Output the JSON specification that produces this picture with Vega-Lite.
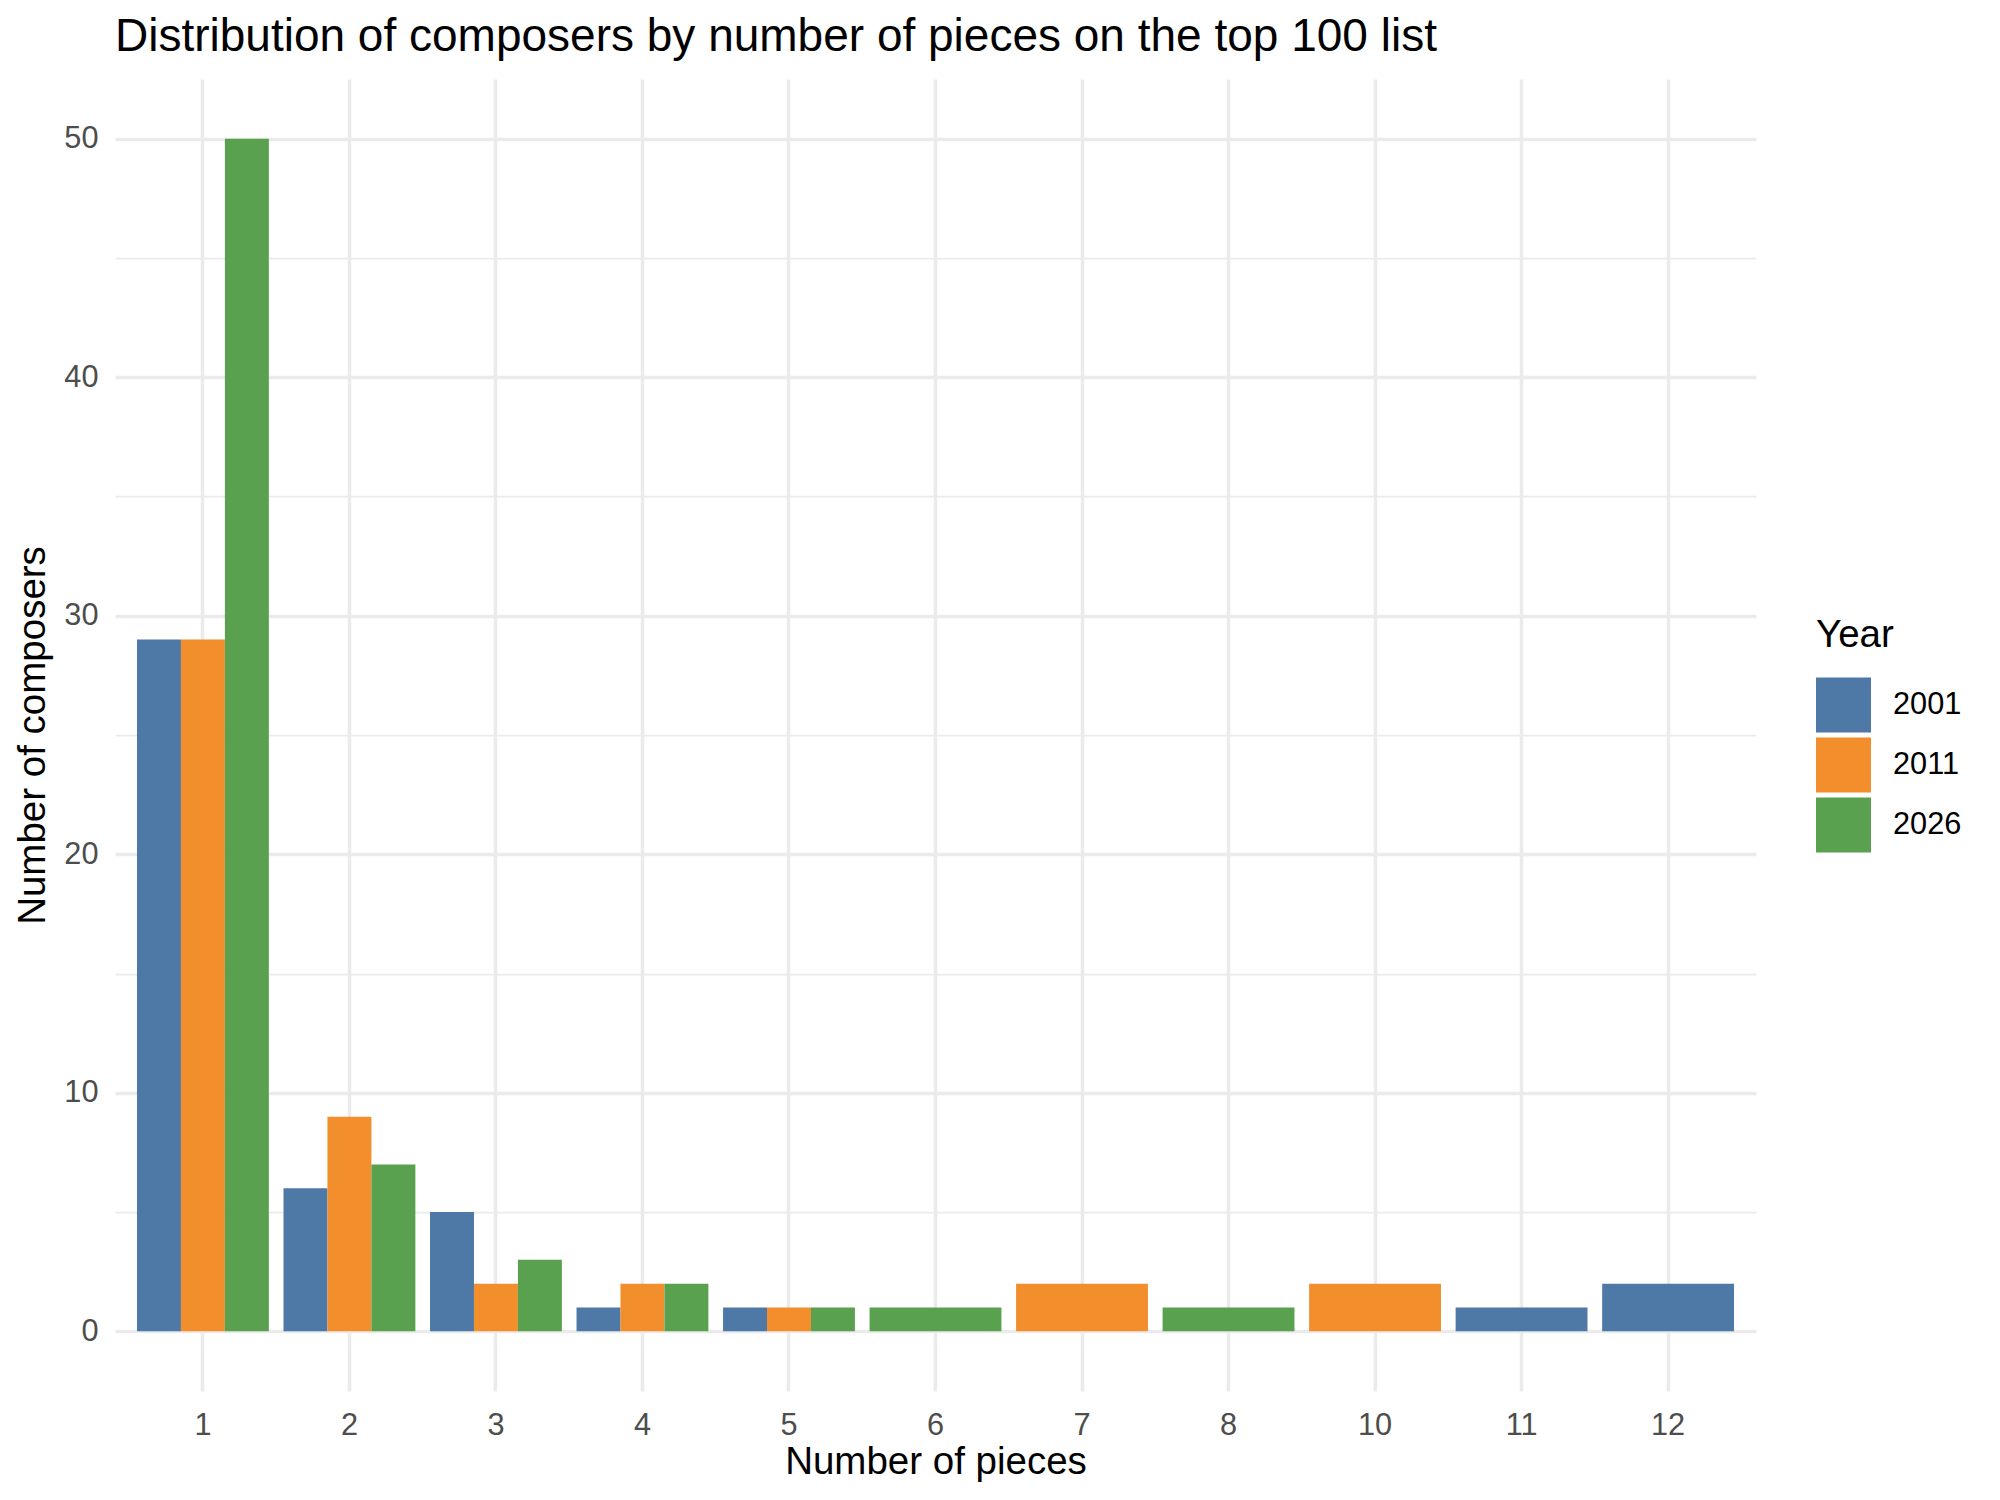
{
  "$schema": "https://vega.github.io/schema/vega-lite/v6.json",
  "width": 1641,
  "height": 1312,
  "autosize": {"type": "none"},
  "padding": {"left": 115, "top": 79, "right": 244, "bottom": 109},
  "background": "white",
  "title": {
    "text": "Distribution of composers by number of pieces on the top 100 list",
    "anchor": "start",
    "frame": "group",
    "baseline": "bottom",
    "offset": -28,
    "fontSize": 46,
    "fontWeight": "normal",
    "color": "black"
  },
  "data": {
    "values": [
      {"pieces": 1, "year": "2001", "composers": 29},
      {"pieces": 1, "year": "2011", "composers": 29},
      {"pieces": 1, "year": "2026", "composers": 50},
      {"pieces": 2, "year": "2001", "composers": 6},
      {"pieces": 2, "year": "2011", "composers": 9},
      {"pieces": 2, "year": "2026", "composers": 7},
      {"pieces": 3, "year": "2001", "composers": 5},
      {"pieces": 3, "year": "2011", "composers": 2},
      {"pieces": 3, "year": "2026", "composers": 3},
      {"pieces": 4, "year": "2001", "composers": 1},
      {"pieces": 4, "year": "2011", "composers": 2},
      {"pieces": 4, "year": "2026", "composers": 2},
      {"pieces": 5, "year": "2001", "composers": 1},
      {"pieces": 5, "year": "2011", "composers": 1},
      {"pieces": 5, "year": "2026", "composers": 1},
      {"pieces": 6, "year": "2026", "composers": 1},
      {"pieces": 7, "year": "2011", "composers": 2},
      {"pieces": 8, "year": "2026", "composers": 1},
      {"pieces": 10, "year": "2011", "composers": 2},
      {"pieces": 11, "year": "2001", "composers": 1},
      {"pieces": 12, "year": "2001", "composers": 2}
    ]
  },
  "transform": [
    {"joinaggregate": [{"op": "count", "as": "n_years"}], "groupby": ["pieces"]}
  ],
  "encoding": {
    "x": {
      "field": "pieces",
      "type": "nominal",
      "title": "Number of pieces",
      "scale": {
        "domain": [1, 2, 3, 4, 5, 6, 7, 8, 10, 11, 12],
        "paddingInner": 0.1,
        "paddingOuter": 0.15
      },
      "axis": {
        "labelAngle": 0,
        "domain": false,
        "ticks": false,
        "grid": true,
        "bandPosition": 0.5,
        "gridColor": "#EBEBEB",
        "gridWidth": 3.5,
        "labelFontSize": 30.7,
        "labelColor": "#4D4D4D",
        "labelPadding": 19,
        "titleFontSize": 38.5,
        "titleFontWeight": "normal",
        "titleColor": "black",
        "titlePadding": 4
      }
    },
    "y": {
      "field": "composers",
      "type": "quantitative",
      "title": "Number of composers",
      "scale": {"domain": [-2.5, 52.5], "nice": false, "zero": false},
      "axis": {
        "values": [0, 5, 10, 15, 20, 25, 30, 35, 40, 45, 50],
        "labelExpr": "datum.value % 10 === 0 ? datum.label : ''",
        "domain": false,
        "ticks": false,
        "grid": true,
        "gridColor": "#EBEBEB",
        "gridWidth": {"condition": {"test": "datum.value % 10 === 0", "value": 3.5}, "value": 1.75},
        "labelFontSize": 30.7,
        "labelColor": "#4D4D4D",
        "labelPadding": 17,
        "titleFontSize": 38.5,
        "titleFontWeight": "normal",
        "titleColor": "black",
        "titlePadding": 11
      }
    },
    "y2": {"datum": 0},
    "color": {
      "field": "year",
      "type": "nominal",
      "title": "Year",
      "scale": {
        "domain": ["2001", "2011", "2026"],
        "range": ["#4E79A7", "#F28E2B", "#59A14F"]
      },
      "legend": {
        "symbolType": "square",
        "symbolSize": 3025,
        "symbolStrokeWidth": 0,
        "symbolOpacity": 1,
        "labelFontSize": 30.7,
        "labelColor": "black",
        "labelOffset": 22,
        "titleFontSize": 38.5,
        "titleFontWeight": "normal",
        "titleColor": "black",
        "titlePadding": 22,
        "rowPadding": 5,
        "offset": 60,
        "padding": 0
      }
    }
  },
  "layer": [
    {
      "transform": [{"filter": "datum.n_years > 1"}],
      "mark": {"type": "bar", "opacity": 1},
      "encoding": {
        "xOffset": {
          "field": "year",
          "type": "nominal",
          "scale": {"domain": ["2001", "2011", "2026"], "paddingInner": 0, "paddingOuter": 0}
        }
      }
    },
    {
      "transform": [{"filter": "datum.n_years == 1"}],
      "mark": {"type": "bar", "opacity": 1}
    }
  ],
  "config": {
    "font": "Liberation Sans",
    "view": {"stroke": null},
    "legend": {"layout": {"right": {"anchor": "middle"}}}
  }
}
